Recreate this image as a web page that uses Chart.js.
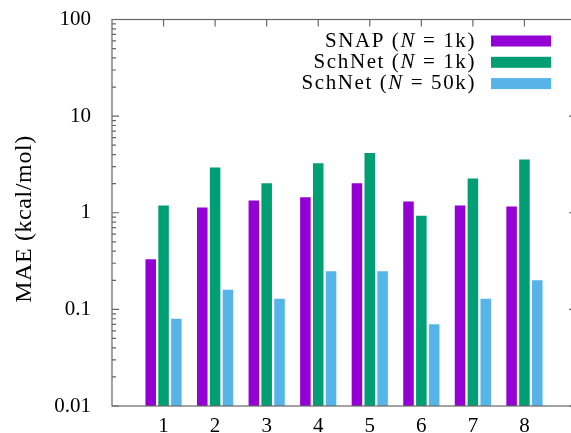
<!DOCTYPE html>
<html>
<head>
<meta charset="utf-8">
<script src="https://cdn.jsdelivr.net/npm/chart.js@4"></script>
<style>
    html, body { margin: 0; padding: 0; background: #fff; overflow: hidden; }
    #wrap { width: 577px; height: 433px; }
</style>
</head>
<body>
<div id="wrap"><canvas id="mae-chart" width="577" height="433"></canvas></div>
<script>
// data
const categories = ['1', '2', '3', '4', '5', '6', '7', '8'];
const seriesNames = ['SNAP (N = 1k)', 'SchNet (N = 1k)', 'SchNet (N = 50k)'];
const snap1k = [0.33, 1.13, 1.34, 1.45, 2.02, 1.31, 1.19, 1.16];
const schnet1k = [1.19, 2.94, 2.02, 3.25, 4.16, 0.93, 2.26, 3.55];
const schnet50k = [0.080, 0.160, 0.129, 0.248, 0.248, 0.070, 0.129, 0.200];
const yTickValues = [0.01, 0.1, 1, 10, 100];
const yTickLabels = ['0.01', '0.1', '1', '10', '100'];
const yTitle = 'MAE (kcal/mol)';

const seriesColors = ['#9400d3', '#009e73', '#56b4e9'];
const FONT = "'Liberation Serif', 'Times New Roman', serif";
const AXIS_COLOR = '#666666';

// categories sit at 1..8 on a 0..9 linear axis
const xPositions = categories.map((c, i) => i + 1);
const toPoints = values => values.map((v, i) => ({ x: xPositions[i], y: v }));

// gnuplot-style frame with inward ticks (major + log minor)
const framePlugin = {
    id: 'frame',
    beforeDatasetsDraw(chart) {
        const { ctx, chartArea: a, scales: { x, y } } = chart;
        ctx.save();
        ctx.strokeStyle = AXIS_COLOR;
        ctx.lineWidth = 1.2;
        ctx.beginPath();
        yTickValues.forEach((dec, d) => {
            const py = y.getPixelForValue(dec);
            ctx.moveTo(a.left, py); ctx.lineTo(a.left + 7, py);
            ctx.moveTo(a.right, py); ctx.lineTo(a.right - 7, py);
            if (d === yTickValues.length - 1) return;
            for (let k = 2; k <= 9; k++) {
                const my = y.getPixelForValue(dec * k);
                ctx.moveTo(a.left, my); ctx.lineTo(a.left + 4, my);
                ctx.moveTo(a.right, my); ctx.lineTo(a.right - 4, my);
            }
        });
        x.ticks.forEach(t => {
            const px = x.getPixelForValue(t.value);
            ctx.moveTo(px, a.top); ctx.lineTo(px, a.top + 7);
            ctx.moveTo(px, a.bottom); ctx.lineTo(px, a.bottom - 7);
        });
        ctx.stroke();
        ctx.restore();
    },
    afterDatasetsDraw(chart) {
        const { ctx, chartArea: a } = chart;
        ctx.save();
        ctx.strokeStyle = AXIS_COLOR;
        ctx.lineWidth = 1.2;
        ctx.strokeRect(a.left, a.top, a.right - a.left, a.bottom - a.top);
        ctx.restore();
    }
};

// y title and legend drawn in the wide TeX-like spacing of the original
const textPlugin = {
    id: 'texText',
    afterDraw(chart) {
        const ctx = chart.ctx;
        ctx.save();
        ctx.fillStyle = '#000';
        ctx.textBaseline = 'middle';

        // y axis title (sits a bit below the plot's middle in the original)
        ctx.save();
        ctx.letterSpacing = '0.6px';
        ctx.font = '24px ' + FONT;
        ctx.textAlign = 'center';
        ctx.translate(25, 219);
        ctx.rotate(-Math.PI / 2);
        ctx.fillText(yTitle, 0, 0);
        ctx.restore();

        // legend: right-aligned text, swatch on the right, italic N
        const textRight = 476, swatchX = 491, swatchW = 60, swatchH = 11;
        const rowTop = 41, rowStep = 21.3;
        ctx.letterSpacing = '1.6px';
        ctx.textAlign = 'left';
        chart.data.datasets.forEach((ds, i) => {
            const yc = rowTop + i * rowStep;
            const parts = ds.label.split(/(\bN\b)/);
            const fontFor = p => (p === 'N' ? 'italic ' : '') + '21px ' + FONT;
            let total = 0;
            parts.forEach(p => { ctx.font = fontFor(p); total += ctx.measureText(p).width; });
            let cx = textRight - total;
            ctx.fillStyle = '#000';
            parts.forEach(p => {
                ctx.font = fontFor(p);
                ctx.fillText(p, cx, yc);
                cx += ctx.measureText(p).width;
            });
            ctx.fillStyle = ds.backgroundColor;
            ctx.fillRect(swatchX, yc - swatchH / 2, swatchW, swatchH);
        });
        ctx.restore();
    }
};

const ctx = document.getElementById('mae-chart').getContext('2d');
new Chart(ctx, {
    type: 'bar',
    data: {
        datasets: [snap1k, schnet1k, schnet50k].map((values, i) => ({
            label: seriesNames[i],
            data: toPoints(values),
            backgroundColor: seriesColors[i],
            borderWidth: 0,
            categoryPercentage: 0.747,
            barPercentage: 0.82
        }))
    },
    options: {
        responsive: false,
        animation: false,
        layout: { padding: { top: 19.5, right: 1, left: 0, bottom: 0 } },
        plugins: {
            legend: { display: false },
            tooltip: { enabled: false }
        },
        scales: {
            x: {
                type: 'linear',
                min: 0,
                max: 9,
                offset: false,
                grid: { display: false, offset: false },
                border: { display: false },
                afterBuildTicks: scale => { scale.ticks = xPositions.map(v => ({ value: v })); },
                afterFit: scale => { scale.height = 27; },
                ticks: {
                    color: '#000',
                    font: { family: FONT, size: 21 },
                    padding: 0,
                    maxRotation: 0,
                    autoSkip: false,
                    callback: (val, i) => categories[i]
                }
            },
            y: {
                type: 'logarithmic',
                min: 0.01,
                max: 100,
                grid: { display: false },
                border: { display: false },
                afterBuildTicks: scale => { scale.ticks = yTickValues.map(v => ({ value: v })); },
                afterFit: scale => {
                    scale.width = 112;
                    // label padding would otherwise push the plot top down
                    scale.paddingTop = 0;
                    scale.paddingBottom = 0;
                },
                ticks: {
                    color: '#000',
                    font: { family: FONT, size: 21 },
                    padding: 13,
                    autoSkip: false,
                    callback: (val, i) => yTickLabels[i]
                }
            }
        }
    },
    plugins: [framePlugin, textPlugin]
});
</script>
</body>
</html>
